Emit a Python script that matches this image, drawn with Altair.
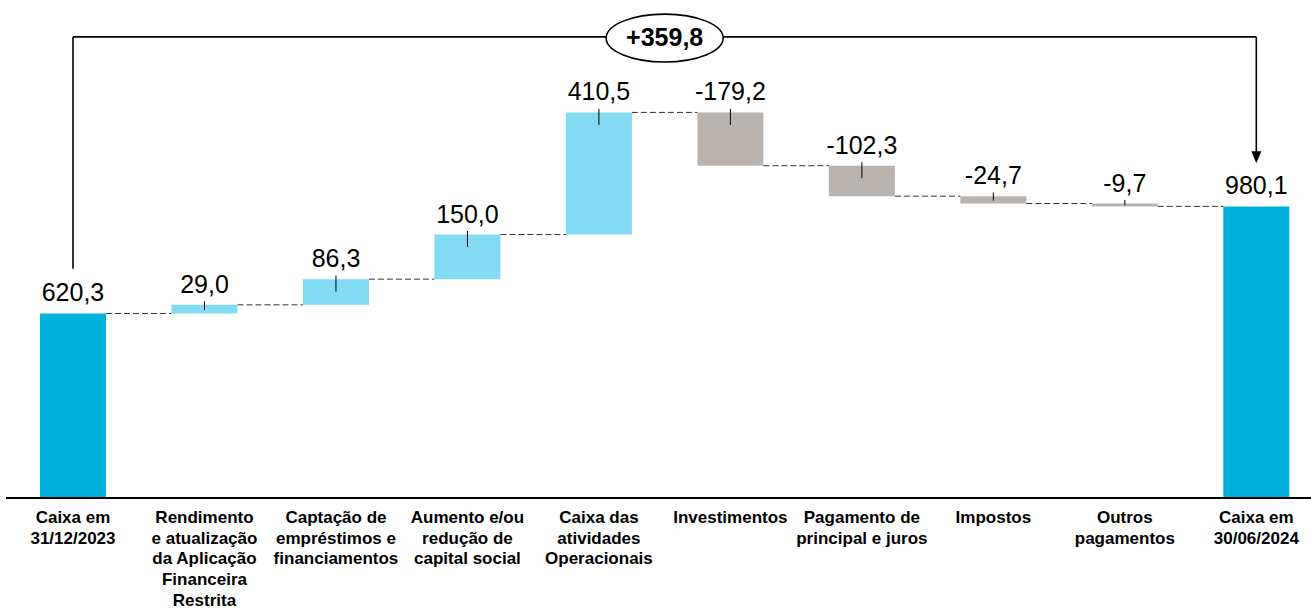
import altair as alt
import pandas as pd

categories = [
    "Caixa em\n31/12/2023",
    "Rendimento\ne atualização\nda Aplicação\nFinanceira\nRestrita",
    "Captação de\nempréstimos e\nfinanciamentos",
    "Aumento e/ou\nredução de\ncapital social",
    "Caixa das\natividades\nOperacionais",
    "Investimentos",
    "Pagamento de\nprincipal e juros",
    "Impostos",
    "Outros\npagamentos",
    "Caixa em\n30/06/2024",
]
values = [620.3, 29.0, 86.3, 150.0, 410.5, -179.2, -102.3, -24.7, -9.7, 980.1]
kinds = ["total", "up", "up", "up", "up", "down", "down", "down", "down", "total"]
value_labels = ["620,3", "29,0", "86,3", "150,0", "410,5", "-179,2", "-102,3", "-24,7", "-9,7", "980,1"]
delta_label = "+359,8"

kind_domain = ["total", "up", "down"]
kind_colors = ["#00B0DC", "#83DAF3", "#BAB4B0"]

HALF = 0.251
rows, conns, ticks = [], [], []
running = 0.0
for i, (c, v, k, lab) in enumerate(zip(categories, values, kinds, value_labels)):
    if k == "total":
        start, end = 0.0, v
    else:
        start, end = running, running + v
    running = end
    lo, hi = min(start, end), max(start, end)
    rows.append(dict(i=i, xa=i - HALF, xb=i + HALF, lo=lo, hi=hi, kind=k,
                     label=lab, cat=c, base=0.0))
    if k != "total":
        ticks.append(dict(i=i, t1=hi + 12, t2=max(hi - 42, lo + 0.4 * (hi - lo))))
for i in range(len(values) - 1):
    lvl = rows[i]["hi"] if kinds[i] == "total" or values[i] > 0 else rows[i]["lo"]
    conns.append(dict(xa=i + HALF, xb=i + 1 - HALF, y=lvl))

df = pd.DataFrame(rows)
dconn = pd.DataFrame(conns)
dtick = pd.DataFrame(ticks)

XMIN, XMAX = -0.5552, 9.4159
YMIN, YMAX = -376.5, 1674.0
xs = alt.Scale(domain=[XMIN, XMAX], nice=False, zero=False)
ys = alt.Scale(domain=[YMIN, YMAX], nice=False, zero=False)

TOP = 1550.0
first_total = values[0]
last_total = values[-1]

bars = alt.Chart(df).mark_rect().encode(
    x=alt.X("xa:Q", scale=xs, axis=None),
    x2="xb:Q",
    y=alt.Y("lo:Q", scale=ys, axis=None),
    y2="hi:Q",
    color=alt.Color("kind:N", scale=alt.Scale(domain=kind_domain, range=kind_colors), legend=None),
)

connectors = alt.Chart(dconn).mark_rule(color="#333333", strokeWidth=1, strokeDash=[6, 3]).encode(
    x=alt.X("xa:Q", scale=xs), x2="xb:Q", y=alt.Y("y:Q", scale=ys)
)

tickm = alt.Chart(dtick).mark_rule(color="#000000", strokeWidth=1).encode(
    x=alt.X("i:Q", scale=xs), y=alt.Y("t1:Q", scale=ys), y2="t2:Q"
)

vlabels = alt.Chart(df).mark_text(
    font="Liberation Sans, Arial, sans-serif", fontSize=25, color="#000000",
    baseline="alphabetic", align="center", dy=-12
).encode(x=alt.X("i:Q", scale=xs), y=alt.Y("hi:Q", scale=ys), text="label:N")

clabels = alt.Chart(df).mark_text(
    font="Liberation Sans, Arial, sans-serif", fontSize=17, fontWeight="bold",
    color="#000000", baseline="top", align="center", dy=12, lineBreak="\n", lineHeight=20.7
).encode(x=alt.X("i:Q", scale=xs), y=alt.Y("base:Q", scale=ys), text="cat:N")

baseline = alt.Chart(pd.DataFrame([dict(xa=-0.5096, xb=XMAX, y=0.0)])).mark_rule(
    color="#000000", strokeWidth=2
).encode(x=alt.X("xa:Q", scale=xs), x2="xb:Q", y=alt.Y("y:Q", scale=ys))

bracket_df = pd.DataFrame([
    dict(xa=0, xb=len(values) - 1, ya=TOP, yb=TOP),
    dict(xa=0, xb=0, ya=TOP, yb=first_total + 150),
    dict(xa=len(values) - 1, xb=len(values) - 1, ya=TOP, yb=last_total + 180),
])
bracket = alt.Chart(bracket_df).mark_rule(color="#000000", strokeWidth=1.6).encode(
    x=alt.X("xa:Q", scale=xs), x2="xb:Q", y=alt.Y("ya:Q", scale=ys), y2="yb:Q"
)

arrow = alt.Chart(pd.DataFrame([dict(x=len(values) - 1, y=last_total + 165)])).mark_point(
    shape="M -0.83 -1 L 0.83 -1 L 0 1 Z", size=144, filled=True, color="#000000", opacity=1
).encode(x=alt.X("x:Q", scale=xs), y=alt.Y("y:Q", scale=ys))

ell_path = ("M -1 0 C -1 -0.2264 -0.5523 -0.41 0 -0.41 C 0.5523 -0.41 1 -0.2264 1 0 "
            "C 1 0.2264 0.5523 0.41 0 0.41 C -0.5523 0.41 -1 0.2264 -1 0 Z")
mid_x = (len(values) - 1) / 2
ellipse = alt.Chart(pd.DataFrame([dict(x=mid_x, y=TOP - 4)])).mark_point(
    shape=ell_path, size=117 * 117, filled=False, fill="#FFFFFF", fillOpacity=1,
    stroke="#000000", strokeWidth=1.6, opacity=1
).encode(x=alt.X("x:Q", scale=xs), y=alt.Y("y:Q", scale=ys))

delta = alt.Chart(pd.DataFrame([dict(x=mid_x, y=TOP, t=delta_label)])).mark_text(
    font="Liberation Sans, Arial, sans-serif", fontSize=25, fontWeight="bold",
    color="#000000", baseline="middle", align="center", dy=1
).encode(x=alt.X("x:Q", scale=xs), y=alt.Y("y:Q", scale=ys), text="t:N")

chart = alt.layer(
    bars, connectors, tickm, vlabels, clabels, baseline, bracket, arrow, ellipse, delta
).properties(
    width=1311, height=610, padding=0,
    autosize=alt.AutoSizeParams(type="none"),
).configure_view(stroke=None)

chart.save("out.html", embed_options={"renderer": "svg", "actions": False})
